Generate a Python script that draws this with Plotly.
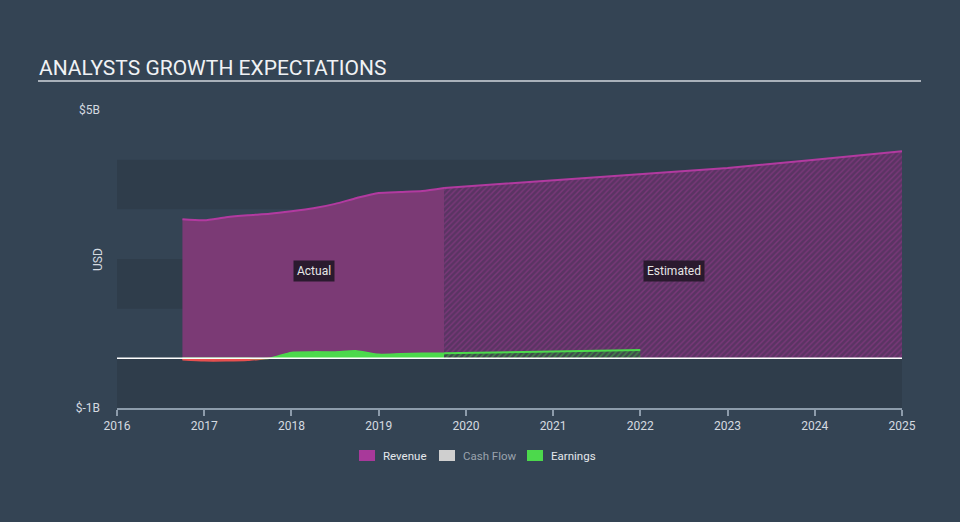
import plotly.graph_objects as go

# ---------------- data (billions USD, decimal years) ----------------
rev_actual_x = [2016.75, 2017.0, 2017.25, 2017.5, 2017.75, 2018.0, 2018.25, 2018.5, 2018.75, 2019.0, 2019.25, 2019.5, 2019.75]
rev_actual_y = [2.80, 2.78, 2.84, 2.88, 2.91, 2.96, 3.02, 3.11, 3.23, 3.33, 3.35, 3.37, 3.43]

rev_est_x = [2019.75, 2020.0, 2021.0, 2022.0, 2023.0, 2024.0, 2025.0]
rev_est_y = [3.43, 3.46, 3.58, 3.70, 3.83, 4.00, 4.17]

earn_actual_x = [2016.75, 2017.0, 2017.25, 2017.5, 2017.75, 2018.0, 2018.25, 2018.5, 2018.75, 2019.0, 2019.25, 2019.5, 2019.75]
earn_actual_y = [-0.03, -0.05, -0.05, -0.04, 0.0, 0.12, 0.13, 0.13, 0.15, 0.08, 0.09, 0.10, 0.10]

earn_est_x = [2019.75, 2020.0, 2021.0, 2022.0]
earn_est_y = [0.10, 0.11, 0.14, 0.17]

x_ticks = [2016, 2017, 2018, 2019, 2020, 2021, 2022, 2023, 2024, 2025]
y_tick_vals = [5, -1]
y_tick_text = ["$5B", "$-1B"]
band_edges = [(4, 3), (2, 1), (0, -1)]

legend_names = ["Revenue", "Cash Flow", "Earnings"]
legend_colors = ["#a8399a", "#cfcfcf", "#4cd94c"]
legend_text_colors = ["#e4e8ec", "#9aa3ad", "#e4e8ec"]

# ---------------- styling ----------------
BG = "#344454"
BAND = "#2f3d4b"
REV_LINE = "#b23aa0"
REV_FILL = "#7b3a75"
GREEN = "#4cd94c"
RED = "#e8504f"
TXT = "#d4dae0"

W, H = 960, 522
L, R, T, B = 117, 58, 110, 114
pw = W - L - R
ph = H - T - B


def px_x(p):
    return (p - L) / pw


def px_y(p):
    return (H - B - p) / ph


fig = go.Figure()

# Revenue actual
fig.add_trace(go.Scatter(
    x=rev_actual_x, y=rev_actual_y, mode="lines", fill="tozeroy",
    line=dict(color=REV_LINE, width=2, shape="spline", smoothing=0.6),
    fillcolor=REV_FILL, showlegend=False, hoverinfo="skip"))

# Revenue estimated (hatched)
fig.add_trace(go.Scatter(
    x=rev_est_x, y=rev_est_y, mode="lines", fill="tozeroy",
    line=dict(color=REV_LINE, width=2),
    fillcolor="rgba(0,0,0,0)",
    fillpattern=dict(shape="/", fgcolor="#9a3c90", bgcolor="#5a3463", size=4, solidity=0.35),
    showlegend=False, hoverinfo="skip"))

# Earnings actual: negative part (red) and positive part (green)
earn_neg = [min(v, 0) for v in earn_actual_y]
earn_pos = [max(v, 0) for v in earn_actual_y]
fig.add_trace(go.Scatter(
    x=earn_actual_x, y=earn_neg, mode="lines", fill="tozeroy",
    line=dict(color=RED, width=1.5, shape="spline", smoothing=0.6),
    fillcolor=RED, showlegend=False, hoverinfo="skip"))
fig.add_trace(go.Scatter(
    x=earn_actual_x, y=earn_pos, mode="lines", fill="tozeroy",
    line=dict(color=GREEN, width=1.5, shape="spline", smoothing=0.6),
    fillcolor=GREEN, showlegend=False, hoverinfo="skip"))

# Earnings estimated (hatched)
fig.add_trace(go.Scatter(
    x=earn_est_x, y=earn_est_y, mode="lines", fill="tozeroy",
    line=dict(color=GREEN, width=2),
    fillcolor="rgba(0,0,0,0)",
    fillpattern=dict(shape="/", fgcolor="#4cb84c", bgcolor="#3d4a4a", size=4, solidity=0.4),
    showlegend=False, hoverinfo="skip"))

# background bands
shapes = []
for y0, y1 in band_edges:
    shapes.append(dict(type="rect", xref="paper", yref="y", x0=0, x1=1, y0=y0, y1=y1,
                       fillcolor=BAND, line=dict(width=0), layer="below"))
# zero line
shapes.append(dict(type="line", xref="paper", yref="y", x0=0, x1=1, y0=0, y1=0,
                   line=dict(color="#ffffff", width=1.5), layer="above"))
# title underline
shapes.append(dict(type="line", xref="paper", yref="paper", x0=px_x(38), x1=px_x(921),
                   y0=px_y(81), y1=px_y(81), line=dict(color="#a9b1ba", width=2)))

annotations = [
    dict(text="ANALYSTS GROWTH EXPECTATIONS", xref="paper", yref="paper",
         x=px_x(37), y=px_y(68), xanchor="left", yanchor="middle", showarrow=False,
         font=dict(family="Roboto", size=21, color="#f0f2f4")),
    dict(text="USD", xref="paper", yref="paper", x=px_x(98), y=px_y(260),
         textangle=-90, showarrow=False, xanchor="center", yanchor="middle",
         font=dict(family="Roboto", size=12, color=TXT)),
    dict(text="Actual", xref="paper", yref="paper", x=px_x(314), y=px_y(271),
         xanchor="center", yanchor="middle",
         showarrow=False, bgcolor="#2a1a2e", borderpad=3,
         font=dict(family="Roboto", size=12, color="#e6e6e6")),
    dict(text="Estimated", xref="paper", yref="paper", x=px_x(674), y=px_y(271),
         xanchor="center", yanchor="middle",
         showarrow=False, bgcolor="#2a1a2e", borderpad=3,
         font=dict(family="Roboto", size=12, color="#e6e6e6")),
]

# manual legend (swatch + label)
legend_x_px = [359, 439, 527]
for name, col, tcol, lx in zip(legend_names, legend_colors, legend_text_colors, legend_x_px):
    shapes.append(dict(type="rect", xref="paper", yref="paper",
                       x0=px_x(lx), x1=px_x(lx + 16), y0=px_y(461), y1=px_y(450),
                       fillcolor=col, line=dict(width=0)))
    annotations.append(dict(text=name, xref="paper", yref="paper",
                            x=px_x(lx + 22), y=px_y(456), xanchor="left", yanchor="middle",
                            showarrow=False,
                            font=dict(family="Roboto", size=11.5, color=tcol)))

fig.update_layout(
    width=W, height=H,
    margin=dict(l=L, r=R, t=T, b=B, pad=0),
    paper_bgcolor=BG, plot_bgcolor=BG,
    font=dict(family="Roboto", color=TXT, size=12),
    shapes=shapes, annotations=annotations,
    showlegend=False,
    xaxis=dict(range=[2016, 2025], tickvals=x_ticks, ticktext=[str(t) for t in x_ticks],
               showgrid=False, zeroline=False, showline=True, linecolor="#8d9cab", linewidth=1.5,
               ticks="outside", ticklen=6, tickcolor="#8d9cab", tickwidth=1.5,
               tickfont=dict(size=12, color=TXT), fixedrange=True),
    yaxis=dict(range=[-1, 5], tickvals=y_tick_vals, ticktext=y_tick_text,
               showgrid=False, zeroline=False, showline=False, ticks="",
               ticklabelstandoff=16,
               tickfont=dict(size=12, color=TXT), fixedrange=True),
)

fig.write_html("out.html")
